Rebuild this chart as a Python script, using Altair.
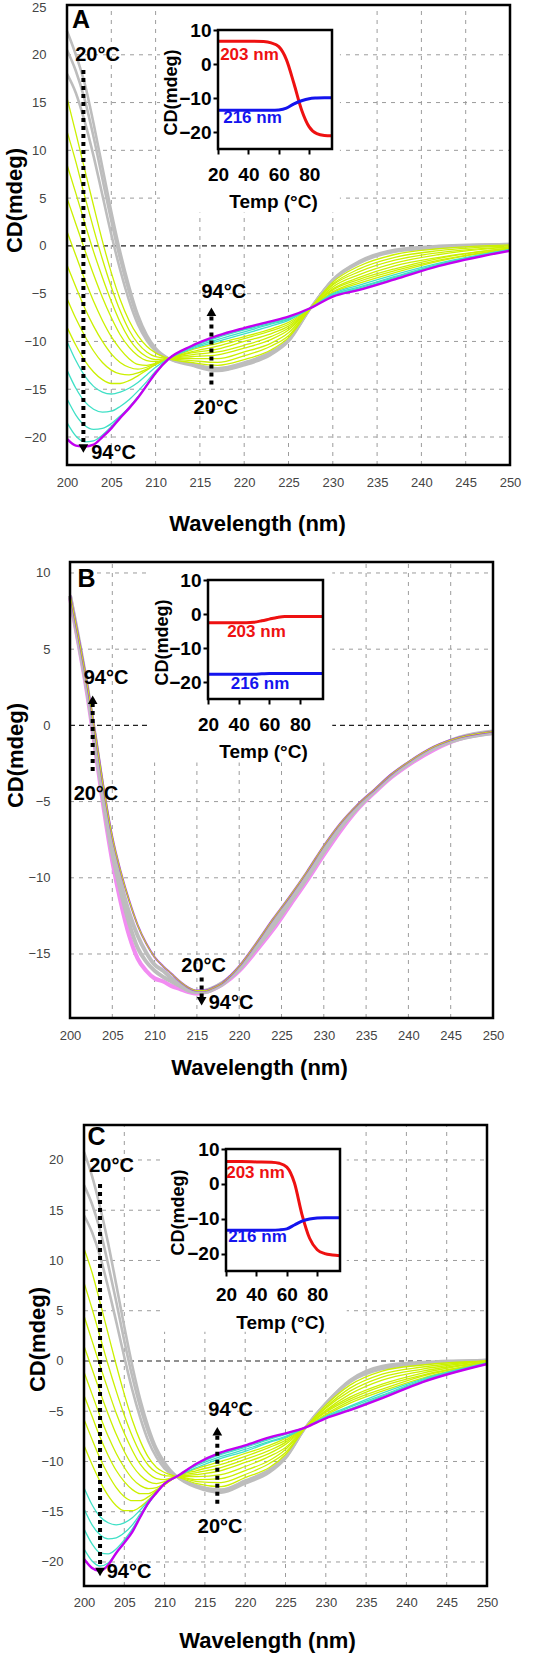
import altair as alt
import pandas as pd

# ---------------- data ----------------
WL_AC = [200, 201, 202, 203, 204, 205, 206, 207, 208, 209, 210, 211.5,
         214, 217, 220, 223, 225, 227.5, 230, 233, 237, 242, 250]

A_GRAY = {
    "a20": [22.5, 20.0, 17.0, 12.8, 8.2, 3.6, -0.6, -4.2, -7.2, -9.3, -10.7, -11.8, -12.5, -13.1, -12.5, -11.4, -10.0, -6.5, -3.5, -1.6, -0.4, 0.0, 0.2],
    "a26": [20.5, 18.3, 15.3, 11.4, 7.0, 2.6, -1.4, -4.8, -7.6, -9.6, -10.9, -11.8, -12.4, -13.0, -12.4, -11.3, -9.9, -6.5, -3.6, -1.7, -0.5, -0.1, 0.2],
    "a32": [18.0, 16.0, 13.0, 9.4, 5.3, 1.2, -2.5, -5.7, -8.2, -9.9, -11.0, -11.8, -12.3, -12.8, -12.2, -11.1, -9.8, -6.5, -3.6, -1.8, -0.6, -0.2, 0.1],
}
A_YELLOW = {
    "a38": [15.5, 11.8, 8.0, 4.2, 0.5, -2.8, -5.6, -7.8, -9.4, -10.5, -11.2, -11.8, -12.2, -12.5, -11.9, -10.9, -9.6, -6.5, -3.8, -2.1, -0.9, -0.3, 0.1],
    "a42": [12.0, 8.8, 5.2, 1.8, -1.4, -4.3, -6.8, -8.8, -10.2, -11.1, -11.6, -11.8, -12.0, -12.2, -11.5, -10.5, -9.4, -6.5, -4.0, -2.4, -1.2, -0.5, 0.0],
    "a46": [8.5, 5.5, 2.4, -0.6, -3.3, -5.8, -8.0, -9.7, -10.9, -11.6, -11.9, -11.8, -11.8, -11.8, -11.1, -10.2, -9.1, -6.5, -4.1, -2.7, -1.5, -0.7, -0.1],
    "a50": [5.0, 2.3, -0.4, -3.0, -5.4, -7.5, -9.3, -10.6, -11.5, -12.0, -12.1, -11.8, -11.6, -11.4, -10.7, -9.8, -8.8, -6.5, -4.3, -3.0, -1.8, -0.9, -0.1],
    "a54": [1.5, -1.0, -3.5, -5.8, -7.8, -9.5, -10.8, -11.8, -12.4, -12.5, -12.3, -11.8, -11.4, -11.1, -10.4, -9.5, -8.6, -6.5, -4.5, -3.3, -2.1, -1.2, -0.2],
    "a58": [-2.0, -4.3, -6.5, -8.4, -10.0, -11.3, -12.2, -12.7, -12.9, -12.7, -12.3, -11.8, -11.2, -10.8, -10.0, -9.2, -8.4, -6.5, -4.6, -3.5, -2.4, -1.3, -0.2],
    "a62": [-5.5, -7.6, -9.4, -11.0, -12.2, -13.0, -13.4, -13.5, -13.3, -12.9, -12.4, -11.8, -11.1, -10.5, -9.7, -8.9, -8.2, -6.5, -4.8, -3.7, -2.6, -1.5, -0.3],
    "a66": [-8.5, -10.4, -12.0, -13.2, -14.0, -14.4, -14.4, -14.1, -13.6, -13.0, -12.4, -11.8, -10.9, -10.2, -9.5, -8.7, -8.0, -6.5, -4.9, -3.9, -2.8, -1.6, -0.3],
}
A_CYAN = {
    "a70": [-10.0, -12.0, -13.6, -14.7, -15.3, -15.5, -15.3, -14.9, -14.3, -13.5, -12.7, -11.8, -10.8, -10.0, -9.2, -8.4, -7.8, -6.5, -5.0, -4.1, -3.0, -1.8, -0.4],
    "a76": [-13.0, -14.9, -16.3, -17.1, -17.4, -17.3, -16.8, -16.1, -15.2, -14.2, -13.1, -11.8, -10.7, -9.8, -9.0, -8.2, -7.7, -6.5, -5.1, -4.3, -3.2, -1.9, -0.4],
    "a82": [-16.0, -17.7, -18.8, -19.2, -19.1, -18.6, -17.8, -16.9, -15.8, -14.6, -13.3, -11.8, -10.6, -9.6, -8.8, -8.1, -7.6, -6.5, -5.2, -4.4, -3.3, -2.0, -0.5],
    "a88": [-18.5, -19.9, -20.5, -20.4, -19.8, -18.9, -17.9, -16.9, -15.8, -14.6, -13.3, -11.8, -10.6, -9.5, -8.7, -8.0, -7.5, -6.5, -5.2, -4.5, -3.4, -2.0, -0.5],
}
A_MAGENTA = {
    "a94": [-20.2, -20.9, -21.0, -20.8, -20.0, -19.1, -18.0, -17.0, -15.9, -14.6, -13.3, -11.8, -10.5, -9.4, -8.6, -7.9, -7.4, -6.5, -5.3, -4.6, -3.5, -2.1, -0.5],
}

C_GRAY = {
    "c20": [20.8, 18.4, 15.3, 11.7, 7.6, 3.4, -0.5, -3.9, -6.6, -8.7, -10.1, -11.5, -12.6, -13.1, -12.2, -11.1, -9.7, -6.6, -4.2, -1.9, -0.5, -0.1, 0.1],
    "c26": [17.5, 15.6, 13.0, 9.6, 5.9, 2.0, -1.6, -4.7, -7.2, -9.1, -10.4, -11.5, -12.5, -13.0, -12.1, -11.0, -9.6, -6.6, -4.2, -2.0, -0.6, -0.2, 0.1],
    "c32": [14.5, 12.8, 10.4, 7.3, 3.9, 0.4, -2.9, -5.7, -8.0, -9.6, -10.7, -11.5, -12.4, -12.8, -11.9, -10.8, -9.5, -6.6, -4.3, -2.1, -0.8, -0.3, 0.1],
}
C_YELLOW = {
    "c38": [11.2, 8.8, 5.8, 2.7, -0.4, -3.3, -5.9, -8.0, -9.6, -10.6, -11.1, -11.5, -12.2, -12.5, -11.6, -10.6, -9.3, -6.6, -4.4, -2.4, -1.0, -0.4, 0.0],
    "c42": [7.8, 5.2, 2.4, -0.4, -3.0, -5.4, -7.5, -9.2, -10.4, -11.1, -11.4, -11.5, -12.0, -12.1, -11.3, -10.2, -9.1, -6.6, -4.6, -2.7, -1.3, -0.6, 0.0],
    "c46": [4.5, 2.0, -0.5, -2.9, -5.2, -7.2, -8.9, -10.3, -11.2, -11.7, -11.8, -11.5, -11.8, -11.7, -10.9, -9.9, -8.8, -6.6, -4.7, -3.0, -1.6, -0.8, 0.0],
    "c50": [1.5, -0.8, -3.1, -5.3, -7.3, -9.0, -10.4, -11.4, -12.0, -12.2, -12.0, -11.5, -11.5, -11.3, -10.5, -9.5, -8.6, -6.6, -4.9, -3.3, -1.9, -1.0, -0.1],
    "c54": [-1.1, -3.3, -5.5, -7.5, -9.2, -10.6, -11.7, -12.4, -12.7, -12.6, -12.2, -11.5, -11.3, -10.9, -10.1, -9.2, -8.3, -6.6, -5.0, -3.6, -2.3, -1.2, -0.1],
    "c58": [-3.4, -5.5, -7.6, -9.4, -10.9, -12.0, -12.8, -13.2, -13.2, -12.8, -12.3, -11.5, -11.1, -10.6, -9.8, -8.9, -8.1, -6.6, -5.1, -3.8, -2.5, -1.4, -0.2],
    "c62": [-5.8, -7.8, -9.7, -11.3, -12.6, -13.5, -13.9, -13.9, -13.5, -12.9, -12.3, -11.5, -10.9, -10.3, -9.5, -8.6, -7.9, -6.6, -5.3, -4.0, -2.8, -1.5, -0.2],
    "c66": [-8.4, -10.3, -12.0, -13.4, -14.4, -14.9, -14.9, -14.5, -13.8, -13.0, -12.3, -11.5, -10.7, -10.0, -9.2, -8.4, -7.7, -6.6, -5.4, -4.2, -3.0, -1.7, -0.2],
}
C_CYAN = {
    "c70": [-12.6, -14.3, -15.5, -16.1, -16.3, -16.1, -15.6, -14.8, -13.9, -13.0, -12.2, -11.5, -10.6, -9.7, -9.0, -8.1, -7.6, -6.6, -5.5, -4.5, -3.2, -1.8, -0.2],
    "c76": [-14.7, -16.3, -17.3, -17.7, -17.6, -17.1, -16.3, -15.2, -14.1, -13.1, -12.2, -11.5, -10.4, -9.5, -8.8, -8.0, -7.5, -6.6, -5.6, -4.6, -3.4, -1.9, -0.3],
    "c82": [-16.7, -18.2, -19.1, -19.2, -18.7, -17.8, -16.7, -15.4, -14.2, -13.1, -12.2, -11.5, -10.3, -9.3, -8.6, -7.8, -7.3, -6.6, -5.6, -4.8, -3.5, -2.0, -0.3],
    "c88": [-18.7, -19.9, -20.4, -20.1, -19.1, -18.0, -16.9, -15.5, -14.2, -13.1, -12.2, -11.5, -10.2, -9.2, -8.5, -7.7, -7.2, -6.6, -5.7, -4.8, -3.6, -2.1, -0.3],
}
C_MAGENTA = {
    "c94": [-19.7, -20.6, -20.9, -20.3, -19.1, -18.1, -17.0, -15.5, -14.1, -13.1, -12.2, -11.5, -10.2, -9.1, -8.4, -7.6, -7.2, -6.6, -5.7, -4.9, -3.7, -2.1, -0.3],
}

WL_B = [200, 201, 202, 203, 204, 205, 206, 207, 208, 209, 210, 211, 212, 213, 214, 215, 216,
        217, 218, 219, 220, 222, 224, 226, 228, 230, 232, 234, 236, 238, 240, 243, 246, 250]
B_PINK = {
    "b94": [8.4, 5.4, 2.2, -1.6, -5.5, -8.9, -11.6, -13.8, -15.3, -16.1, -16.6, -16.8, -17.1, -17.3, -17.5, -17.6, -17.5,
            -17.3, -17.0, -16.6, -16.1, -14.8, -13.4, -11.8, -10.2, -8.5, -6.9, -5.5, -4.4, -3.4, -2.6, -1.6, -0.9, -0.5],
}
B_GRAY = {
    "b60": [8.5, 5.5, 2.4, -1.3, -5.1, -8.4, -10.9, -13.0, -14.6, -15.5, -16.1, -16.5, -16.8, -17.1, -17.4, -17.5, -17.5,
            -17.3, -17.0, -16.5, -16.0, -14.6, -13.2, -11.6, -10.0, -8.3, -6.7, -5.4, -4.3, -3.3, -2.5, -1.5, -0.9, -0.5],
    "b40": [8.5, 5.7, 2.6, -0.9, -4.6, -7.8, -10.3, -12.3, -13.8, -14.9, -15.7, -16.1, -16.6, -17.0, -17.3, -17.5, -17.4,
            -17.2, -16.9, -16.5, -15.9, -14.5, -12.9, -11.4, -9.8, -8.1, -6.6, -5.3, -4.3, -3.3, -2.5, -1.5, -0.8, -0.4],
}
B_TOP = {
    "b20": [8.6, 5.8, 2.8, -0.6, -4.2, -7.3, -9.6, -11.5, -13.1, -14.3, -15.2, -15.8, -16.3, -16.8, -17.2, -17.4, -17.4,
            -17.2, -16.9, -16.4, -15.8, -14.3, -12.7, -11.2, -9.6, -7.9, -6.4, -5.2, -4.2, -3.2, -2.4, -1.4, -0.8, -0.4],
}

# insets: signal vs temperature
TEMP = [20, 30, 40, 50, 55, 60, 65, 70, 75, 80, 85, 90, 95]
A_203 = [6.7, 6.7, 6.7, 6.6, 6.2, 5.1, 1.3, -5.8, -13.5, -18.5, -20.5, -21.0, -21.1]
A_216 = [-13.6, -13.6, -13.6, -13.6, -13.6, -13.5, -13.0, -11.7, -10.8, -10.2, -10.0, -9.9, -9.9]
B_203 = [-2.6, -2.6, -2.6, -2.4, -2.0, -1.5, -1.0, -0.7, -0.7, -0.7, -0.7, -0.7, -0.7]
B_216 = [-17.7, -17.7, -17.7, -17.7, -17.6, -17.5, -17.5, -17.5, -17.5, -17.5, -17.5, -17.5, -17.5]
C_203 = [6.4, 6.4, 6.3, 6.2, 5.9, 4.8, 0.3, -8.8, -15.6, -18.9, -20.0, -20.4, -20.6]
C_216 = [-13.3, -13.3, -13.3, -13.3, -13.2, -12.9, -11.8, -10.7, -10.1, -9.8, -9.7, -9.7, -9.7]

# tick values
XTICKS = [200, 205, 210, 215, 220, 225, 230, 235, 240, 245, 250]
XGRID = [205, 210, 215, 220, 225, 230, 235, 240, 245]
A_YTICKS = [-20, -15, -10, -5, 0, 5, 10, 15, 20, 25]
B_YTICKS = [-15, -10, -5, 0, 5, 10]
C_YTICKS = [-20, -15, -10, -5, 0, 5, 10, 15, 20]
A_HGRID = [20, 15, 10, 5, -5, -10, -15, -20]
B_HGRID = [10, 5, -5, -10, -15]
C_HGRID = [20, 15, 10, 5, -5, -10, -15, -20]
INSET_XTICKS = [20, 40, 60, 80]
INSET_YTICKS = [-20, -10, 0, 10]

# annotations (data coordinates)
A_ARROW_X = [201.85, 216.3]
A_ARROW_FROM = [18.4, -14.5]
A_ARROW_TO = [-21.2, -6.9]
A_ARROW_DIR = ["down", "up"]
A_LAB_TEXT = ["20°C", "94°C", "94°C", "20°C"]
A_LAB_X = [203.44, 205.25, 217.7, 216.8]
A_LAB_Y = [20.0, -21.66, -4.8, -17.0]

B_ARROW_X = [202.68, 215.56]
B_ARROW_FROM = [-3.0, -16.55]
B_ARROW_TO = [1.68, -18.1]
B_ARROW_DIR = ["up", "down"]
B_LAB_TEXT = ["94°C", "20°C", "20°C", "94°C"]
B_LAB_X = [204.26, 203.07, 215.8, 219.03]
B_LAB_Y = [3.1, -4.5, -15.8, -18.2]

C_ARROW_X = [201.99, 216.54]
C_ARROW_FROM = [17.6, -14.2]
C_ARROW_TO = [-21.0, -7.0]
C_ARROW_DIR = ["down", "up"]
C_LAB_TEXT = ["20°C", "94°C", "94°C", "20°C"]
C_LAB_X = [203.41, 205.58, 218.2, 216.9]
C_LAB_Y = [19.4, -21.0, -4.9, -16.5]

INSET_LAB_TEXT = ["203 nm", "216 nm"]
A_INSET_LAB_X = [40.7, 42.7]
A_INSET_LAB_Y = [2.6, -15.9]
B_INSET_LAB_X = [51.6, 53.9]
B_INSET_LAB_Y = [-5.3, -20.6]
C_INSET_LAB_X = [39.4, 40.7]
C_INSET_LAB_Y = [3.1, -15.2]

# ---------------- styling ----------------
FONT = "Liberation Sans"
GRID_C = "#9c9c9c"
GRAY = "#bdbdbd"
YEL = "#cbf000"
CYAN = "#3fe0c6"
MAG = "#c200f0"
PINK = "#f28cf2"
PURPLE = "#a43cdc"
RED = "#ee1111"
BLUE = "#1414ee"


def lines_df(curves, wl):
    rows = []
    for name, vals in curves.items():
        for w, v in zip(wl, vals):
            rows.append({"wl": w, "cd": v, "curve": name})
    return pd.DataFrame(rows)


def build_panel(p):
    H = p["H"]
    ymin, ymax = p["ydom"]
    xs = alt.Scale(domain=[200, 250], range=list(p["xr"]), nice=False, zero=False)
    ys = alt.Scale(domain=[ymin, ymax], range=[p["ybot"], p["ytop"]], nice=False, zero=False)

    x_axis = alt.Axis(orient="bottom", values=XTICKS, format="d", title="Wavelength (nm)", grid=False,
                      ticks=False, tickSize=0, domain=False, labelFont=FONT, labelFontSize=13,
                      labelColor="#444444", labelPadding=p["xlabpad"], offset=p["ybot"] - H,
                      labelFlush=False, labelOverlap=False,
                      titleFont=FONT, titleFontSize=22, titleFontWeight="bold", titleColor="black",
                      titleX=p["xtitle"][0], titleY=p["xtitle"][1], titleBaseline="middle", titleAlign="center")
    y_axis = alt.Axis(orient="left", values=p["yticks"], format="d", title="CD(mdeg)", grid=False,
                      ticks=False, tickSize=0, domain=False, labelFont=FONT, labelFontSize=13,
                      labelColor="#444444", labelPadding=p["ylabpad"], offset=-p["xr"][0],
                      labelFlush=False, labelOverlap=False,
                      titleFont=FONT, titleFontSize=22, titleFontWeight="bold", titleColor="black",
                      titleX=p["ytitle"][0], titleY=p["ytitle"][1], titleAngle=270,
                      titleBaseline="middle", titleAlign="center")

    def X(f):
        return alt.X(f, scale=xs, axis=x_axis)

    def Y(f):
        return alt.Y(f, scale=ys, axis=y_axis)

    vgrid = alt.Chart(pd.DataFrame({"x": XGRID, "y0": ymin, "y1": ymax})).mark_rule(
        color=GRID_C, strokeWidth=1, strokeDash=[4, 5]).encode(x=X("x:Q"), y=Y("y0:Q"), y2="y1:Q")
    hgrid = alt.Chart(pd.DataFrame({"y": p["hgrid"], "x0": 200, "x1": 250})).mark_rule(
        color=GRID_C, strokeWidth=1, strokeDash=[4, 5]).encode(y=Y("y:Q"), x=X("x0:Q"), x2="x1:Q")
    zero = alt.Chart(pd.DataFrame({"y": [0], "x0": [200], "x1": [250]})).mark_rule(
        color="#222222", strokeWidth=1.2, strokeDash=[5, 4]).encode(y=Y("y:Q"), x=X("x0:Q"), x2="x1:Q")
    bx0, bx1, by0, by1 = p["box"]
    box = alt.Chart(pd.DataFrame({"x0": [bx0], "x1": [bx1], "y0": [by0], "y1": [by1]})).mark_rect(
        color="white").encode(x=X("x0:Q"), x2="x1:Q", y=Y("y0:Q"), y2="y1:Q")

    layers = [vgrid, hgrid, zero, box]
    for curves, color, width in p["groups"]:
        df = lines_df(curves, p["wl"])
        layers.append(alt.Chart(df).mark_line(color=color, strokeWidth=width, interpolate="monotone")
                      .encode(x=X("wl:Q"), y=Y("cd:Q"), detail="curve:N"))

    frame = alt.Chart(pd.DataFrame({"x0": [200], "x1": [250], "y0": [ymin], "y1": [ymax]})).mark_rect(
        fill="transparent", stroke="black", strokeWidth=2.5).encode(x=X("x0:Q"), x2="x1:Q", y=Y("y0:Q"), y2="y1:Q")
    layers.append(frame)

    adf = pd.DataFrame({"x": p["ax"], "y0": p["afrom"], "y1": p["ato"], "dir": p["adir"]})
    layers.append(alt.Chart(adf).mark_rule(color="black", strokeWidth=4, strokeDash=[4, 4])
                  .encode(x=X("x:Q"), y=Y("y0:Q"), y2="y1:Q"))
    layers.append(alt.Chart(adf).mark_point(filled=True, color="black", size=95, opacity=1)
                  .encode(x=X("x:Q"), y=Y("y1:Q"),
                          shape=alt.Shape("dir:N", scale=alt.Scale(domain=["up", "down"],
                                                                    range=["triangle-up", "triangle-down"]),
                                          legend=None)))
    ldf = pd.DataFrame({"t": p["ltext"], "x": p["lx"], "y": p["ly"]})
    layers.append(alt.Chart(ldf).mark_text(font=FONT, fontSize=20, fontWeight="bold", color="black",
                                           align="center", baseline="middle")
                  .encode(x=X("x:Q"), y=Y("y:Q"), text="t:N"))
    let = pd.DataFrame({"t": [p["letter"][0]], "x": [p["letter"][1]], "y": [p["letter"][2]]})
    layers.append(alt.Chart(let).mark_text(font=FONT, fontSize=25, fontWeight="bold", color="black",
                                           align="center", baseline="middle")
                  .encode(x=X("x:Q"), y=Y("y:Q"), text="t:N"))
    main = alt.layer(*layers)

    # ---- inset ----
    ix0, ix1 = p["ix"]
    iyb, iyt = p["iy"]
    xi = alt.Scale(domain=[20, 95], range=[ix0, ix1], nice=False, zero=False)
    yi = alt.Scale(domain=[-25, 10], range=[iyb, iyt], nice=False, zero=False)
    xi_axis = alt.Axis(orient="bottom", values=INSET_XTICKS, title="Temp (°C)", grid=False, domain=False,
                       ticks=True, tickSize=5, tickWidth=2, tickColor="black", labelFont=FONT, labelFontSize=19,
                       labelFontWeight="bold", labelColor="black", labelPadding=p["ilabpad"],
                       offset=iyb - H, labelFlush=False, labelOverlap=False, zindex=2,
                       titleFont=FONT, titleFontSize=19, titleFontWeight="bold", titleColor="black",
                       titleX=p["ixtitle"][0], titleY=p["ixtitle"][1], titleBaseline="middle", titleAlign="center")
    yi_axis = alt.Axis(orient="left", values=INSET_YTICKS, title="CD(mdeg)", grid=False, domain=False,
                       ticks=True, tickSize=5, tickWidth=2, tickColor="black", labelFont=FONT, labelFontSize=19,
                       labelFontWeight="bold", labelColor="black", labelPadding=2,
                       offset=-ix0, labelFlush=False, labelOverlap=False, zindex=2,
                       titleFont=FONT, titleFontSize=18, titleFontWeight="bold", titleColor="black",
                       titleX=p["iytitle"][0], titleY=p["iytitle"][1], titleAngle=270,
                       titleBaseline="middle", titleAlign="center")

    def XI(f):
        return alt.X(f, scale=xi, axis=xi_axis)

    def YI(f):
        return alt.Y(f, scale=yi, axis=yi_axis)

    red = alt.Chart(pd.DataFrame({"t": TEMP, "v": p["r203"]})).mark_line(
        color=RED, strokeWidth=3, interpolate="monotone").encode(x=XI("t:Q"), y=YI("v:Q"))
    blue = alt.Chart(pd.DataFrame({"t": TEMP, "v": p["b216"]})).mark_line(
        color=BLUE, strokeWidth=3, interpolate="monotone").encode(x=XI("t:Q"), y=YI("v:Q"))
    iframe = alt.Chart(pd.DataFrame({"x0": [20], "x1": [95], "y0": [-25], "y1": [10]})).mark_rect(
        fill="transparent", stroke="black", strokeWidth=2.5).encode(
        x=XI("x0:Q"), x2="x1:Q", y=YI("y0:Q"), y2="y1:Q")
    idf = pd.DataFrame({"t": INSET_LAB_TEXT, "x": p["ilx"], "y": p["ily"], "c": [RED, BLUE]})
    ilab = alt.Chart(idf).mark_text(font=FONT, fontSize=17, fontWeight="bold", align="center",
                                    baseline="middle").encode(
        x=XI("x:Q"), y=YI("y:Q"), text="t:N", color=alt.Color("c:N", scale=None))
    inset = alt.layer(red, blue, iframe, ilab)

    return alt.layer(main, inset).resolve_scale(x="independent", y="independent").properties(
        width=549, height=H)


PA = dict(H=555, xr=(67, 510), ybot=465, ytop=5, ydom=(-22.93, 25.21), yticks=A_YTICKS, hgrid=A_HGRID,
          xlabpad=11, ylabpad=21, xtitle=(257, 58), ytitle=(-53, 200), box=(210.5, 230.8, 3.5, 25.21),
          wl=WL_AC, groups=[(A_GRAY, GRAY, 2.6), (A_YELLOW, YEL, 1.3), (A_CYAN, CYAN, 1.3), (A_MAGENTA, MAG, 2.4)],
          ax=A_ARROW_X, afrom=A_ARROW_FROM, ato=A_ARROW_TO, adir=A_ARROW_DIR,
          ltext=A_LAB_TEXT, lx=A_LAB_X, ly=A_LAB_Y, letter=("A", 201.58, 23.6),
          ix=(218, 332), iy=(149, 30), ilabpad=11, ixtitle=(273, 52), iytitle=(-47, 92),
          r203=A_203, b216=A_216, ilx=A_INSET_LAB_X, ily=A_INSET_LAB_Y)

PB = dict(H=540, xr=(70, 493), ybot=463, ytop=7, ydom=(-19.2, 10.72), yticks=B_YTICKS, hgrid=B_HGRID,
          xlabpad=11, ylabpad=20, xtitle=(259, 49), ytitle=(-55, 200), box=(209.1, 231.0, -2.44, 10.72),
          wl=WL_B, groups=[(B_PINK, PINK, 4.2), (B_GRAY, GRAY, 4.0), (B_TOP, PURPLE, 2.0), (B_TOP, YEL, 1.0)],
          ax=B_ARROW_X, afrom=B_ARROW_FROM, ato=B_ARROW_TO, adir=B_ARROW_DIR,
          ltext=B_LAB_TEXT, lx=B_LAB_X, ly=B_LAB_Y, letter=("B", 201.95, 9.6),
          ix=(208, 323), iy=(144, 25), ilabpad=11, ixtitle=(263, 52), iytitle=(-46, 87),
          r203=B_203, b216=B_216, ilx=B_INSET_LAB_X, ily=B_INSET_LAB_Y)

PC = dict(H=561, xr=(84, 487), ybot=491, ytop=30, ydom=(-22.39, 23.48), yticks=C_YTICKS, hgrid=C_HGRID,
          xlabpad=10, ylabpad=21, xtitle=(267, 54), ytitle=(-47, 244), box=(209.8, 232.6, 2.9, 23.48),
          wl=WL_AC, groups=[(C_GRAY, GRAY, 2.6), (C_YELLOW, YEL, 1.3), (C_CYAN, CYAN, 1.3), (C_MAGENTA, MAG, 2.4)],
          ax=C_ARROW_X, afrom=C_ARROW_FROM, ato=C_ARROW_TO, adir=C_ARROW_DIR,
          ltext=C_LAB_TEXT, lx=C_LAB_X, ly=C_LAB_Y, letter=("C", 201.55, 22.3),
          ix=(226, 340), iy=(176, 54), ilabpad=9, ixtitle=(280, 51), iytitle=(-48, 117),
          r203=C_203, b216=C_216, ilx=C_INSET_LAB_X, ily=C_INSET_LAB_Y)

chart = alt.vconcat(build_panel(PA), build_panel(PB), build_panel(PC), spacing=0).properties(
    padding={"left": 0, "top": 0, "right": 0, "bottom": 0}
).configure_view(stroke=None)

chart.save("out.html", embed_options={"renderer": "svg", "actions": False})
